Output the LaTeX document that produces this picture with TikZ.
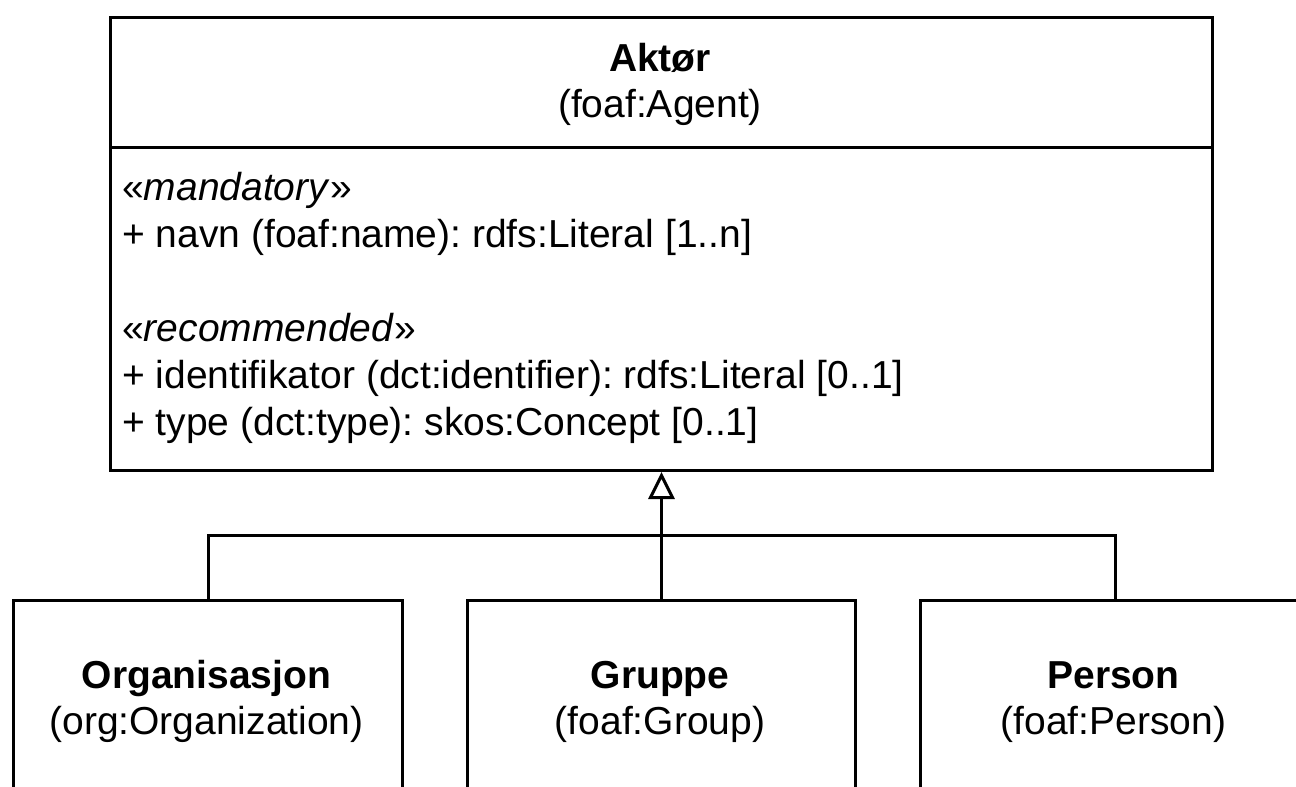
\documentclass[tikz,border=0pt]{standalone}
\usepackage{fontspec}
\setmainfont{Liberation Sans}
\usetikzlibrary{arrows.meta}
\frenchspacing
\begin{document}
\begin{tikzpicture}[x=1pt,y=-1pt,
  box/.style={draw=black,line width=3pt,rectangle,inner sep=0pt,anchor=north west},
  lbl/.style={inner sep=0pt,anchor=base,font=\fontsize{39}{47}\selectfont},
  attr/.style={inner sep=0pt,anchor=base west,font=\fontsize{39}{47}\selectfont},
  conn/.style={line width=3pt},
]
\useasboundingbox (0,0) rectangle (1296,787);
\clip (0,0) rectangle (1296,787);
\fill[white] (0,0) rectangle (1296,787);
% boxes
\node[box,minimum width=1102pt,minimum height=130pt] (agenthead) at (109,16) {};
\node[box,minimum width=1102pt,minimum height=323pt] (agentbody) at (109,146) {};
\node[box,minimum width=389pt,minimum height=300pt] (org) at (12,599) {};
\node[box,minimum width=388pt,minimum height=300pt] (grp) at (466,599) {};
\node[box,minimum width=389pt,minimum height=300pt] (per) at (919,599) {};
% texts
\node[lbl] (agentname) at (660,71) {\bfseries Aktør};
\node[lbl] (agentiri) at (660,117) {(foaf:Agent)};
\node[attr] (mand) at (122,200) {«\textit{mandatory}»};
\node[attr] (navn) at (122,247) {+ navn (foaf:name): rdfs:Literal [1..n]};
\node[attr] (rec) at (122,341) {«\textit{recommended}»};
\node[attr] (ident) at (122,388) {+ identifikator (dct:identifier): rdfs:Literal [0..1]};
\node[attr] (type) at (122,435) {+ type (dct:type): skos:Concept [0..1]};
\node[lbl] (orgname) at (206.5,688) {\bfseries Organisasjon};
\node[lbl] (orgiri) at (206.5,734) {(org:Organization)};
\node[lbl] (grpname) at (660,688) {\bfseries Gruppe};
\node[lbl] (grpiri) at (660,734) {(foaf:Group)};
\node[lbl] (pername) at (1113.5,688) {\bfseries Person};
\node[lbl] (periri) at (1113.5,734) {(foaf:Person)};
% connectors
\coordinate (j) at (660,535);
\draw[conn] (org.north) |- (j) -| (per.north);
\draw[conn,-{Triangle[open,length=27pt,width=26pt]}] (grp.north) -- (agentbody.south);
\end{tikzpicture}
\end{document}
